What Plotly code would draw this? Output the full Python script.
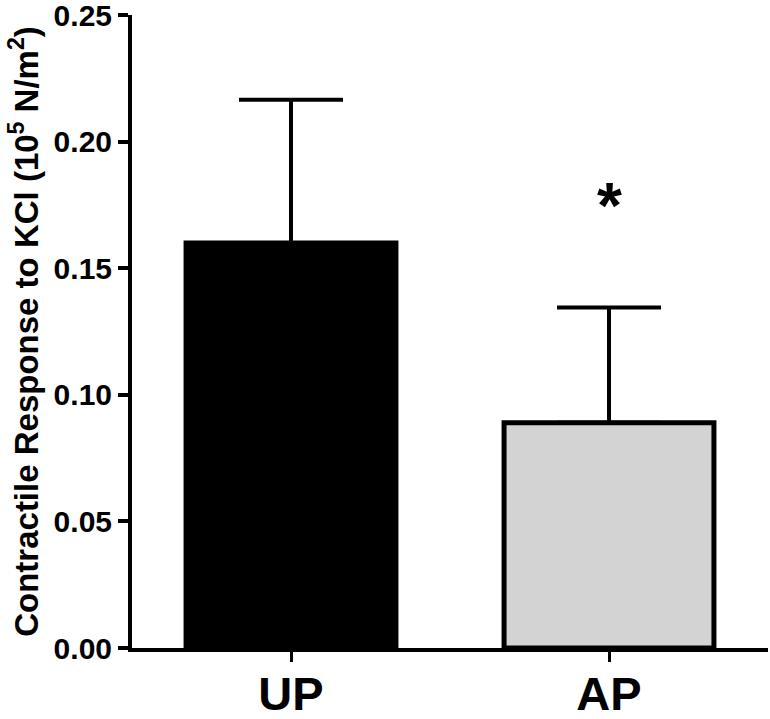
import plotly.graph_objects as go

categories = ["UP", "AP"]
means = [0.160, 0.089]
sem = [0.0565, 0.0455]
fill_colors = ["#000000", "#d3d3d3"]
y_ticks = [0.00, 0.05, 0.10, 0.15, 0.20, 0.25]
sig_label = "*"
sig_y = 0.178

FONT = "Liberation Sans, Arial, sans-serif"

fig = go.Figure()
fig.add_trace(go.Bar(
    x=categories, y=means, width=0.66,
    marker=dict(color=fill_colors, line=dict(color="black", width=5)),
    error_y=dict(type="data", array=sem, arrayminus=[0, 0], symmetric=False,
                 color="black", thickness=4, width=52),
    showlegend=False,
))

fig.add_annotation(x="AP", y=sig_y, text="<b>" + sig_label + "</b>", showarrow=False,
                   font=dict(family=FONT, size=64, color="black"),
                   yanchor="middle", yshift=-9)

fig.update_layout(
    width=770, height=719,
    margin=dict(l=132, r=2, t=15, b=71),
    paper_bgcolor="white", plot_bgcolor="white",
    xaxis=dict(
        range=[-0.5, 1.5], showline=True, linecolor="black", linewidth=4,
        ticks="outside", ticklen=10, tickwidth=3, tickcolor="black",
        ticklabelstandoff=-8,
        tickfont=dict(family=FONT, size=47, color="black", weight="bold"),
        showgrid=False, zeroline=False, automargin=False,
    ),
    yaxis=dict(
        range=[0, 0.25], tickvals=y_ticks, tickformat=".2f",
        showline=True, linecolor="black", linewidth=4,
        ticks="outside", ticklen=10, tickwidth=4, tickcolor="black",
        ticklabeloverflow="allow",
        tickfont=dict(family=FONT, size=30, color="black", weight="bold"),
        showgrid=False, zeroline=False, automargin=False,
        title=dict(text="Contractile Response to KCl (10<sup>5</sup> N/m<sup>2</sup>)",
                   font=dict(family=FONT, size=33, color="black", weight="bold"),
                   standoff=6),
    ),
)

fig.write_html("out.html", config={"displayModeBar": False},
               post_script="document.body.style.margin='0';")
